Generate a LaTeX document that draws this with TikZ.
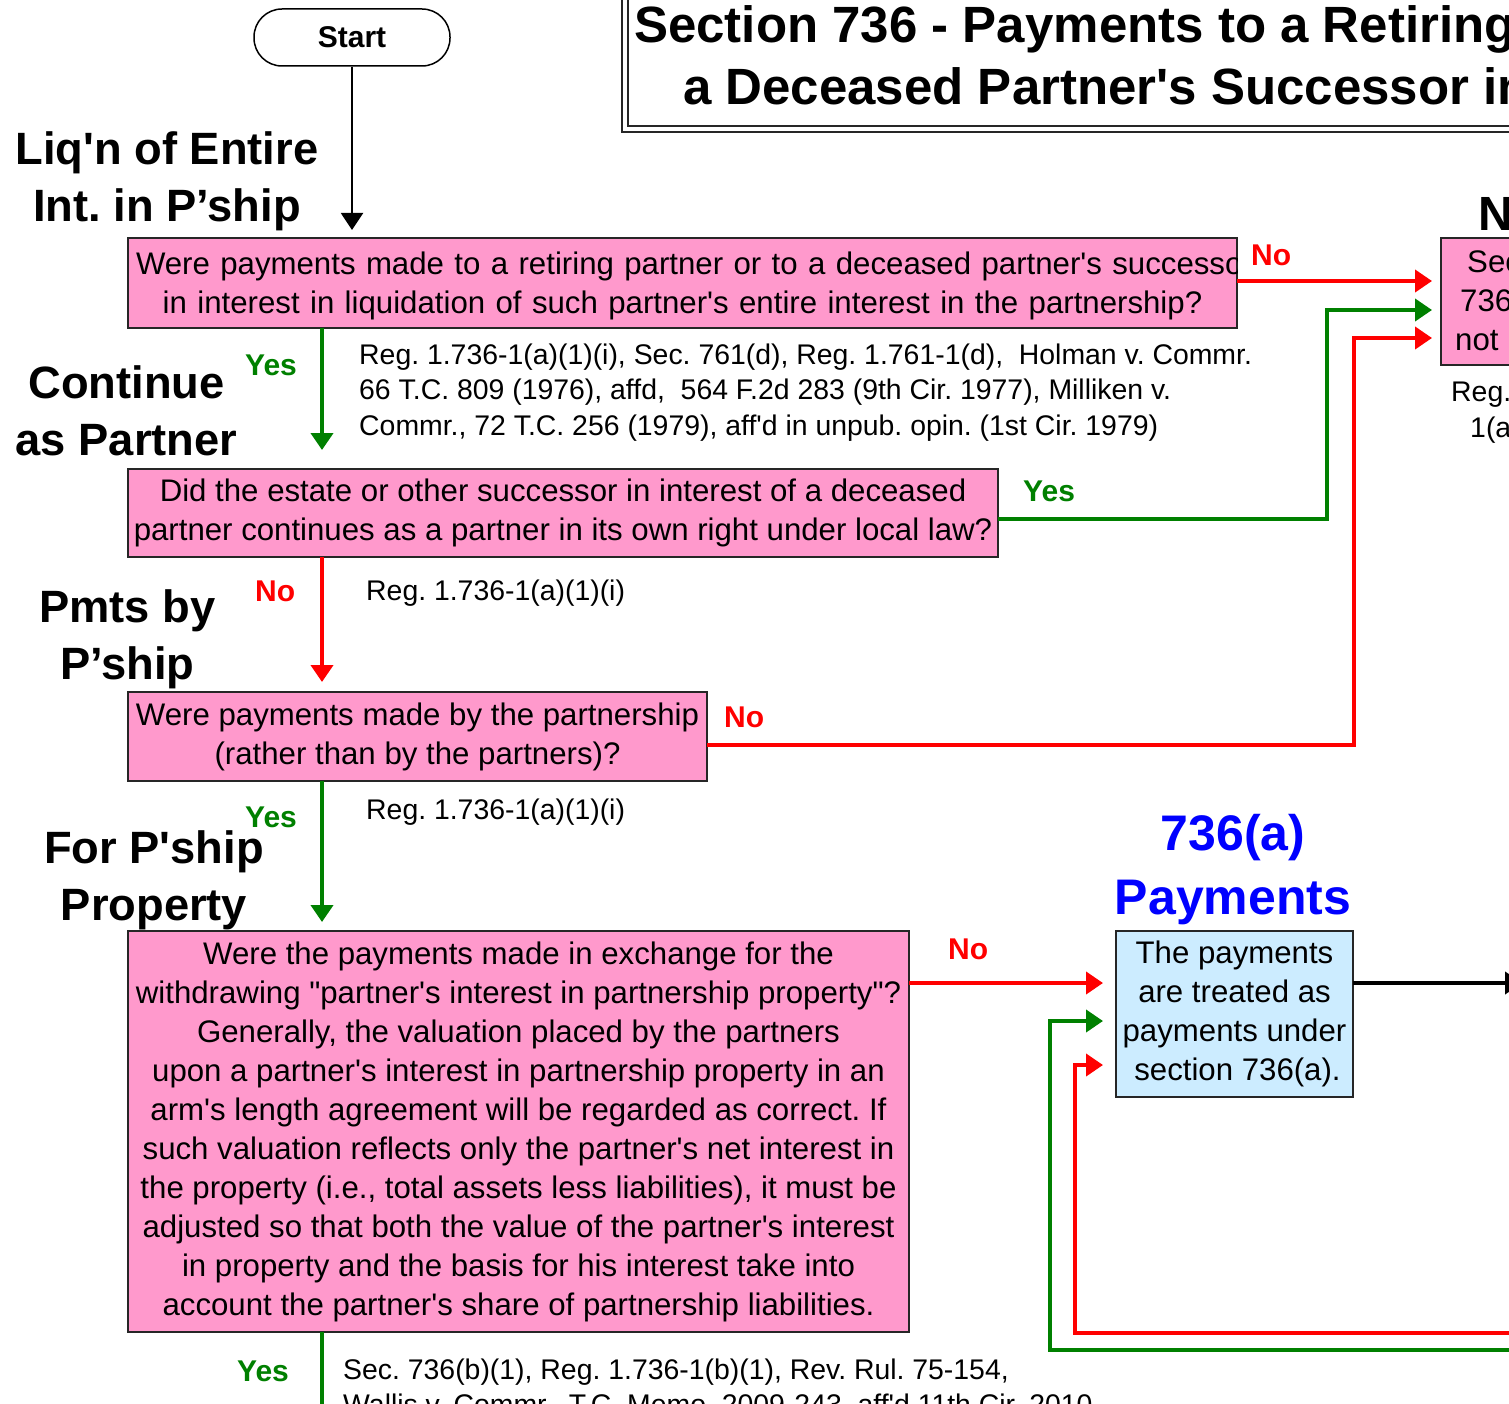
\documentclass[tikz,border=0pt]{standalone}
\usepackage{fontspec}
\setmainfont{Liberation Sans}[Ligatures=TeXOff]
\usetikzlibrary{arrows.meta}

\definecolor{boxpink}{HTML}{FF99CC}
\definecolor{boxblue}{HTML}{CCECFF}
\definecolor{yesgreen}{HTML}{008000}
\definecolor{nored}{HTML}{FF0000}
\definecolor{headblue}{HTML}{0000FF}

\begin{document}
\frenchspacing
\begin{tikzpicture}[x=1pt, y=-1pt,
	arrowhd/.style={-{Triangle[length=17pt,width=22pt]}},
	qbox/.style={draw=black!85, line width=2pt, fill=boxpink, inner sep=0pt, outer sep=0pt},
	ansbox/.style={qbox, fill=boxblue},
	qtext/.style={align=center, inner sep=0pt, font=\fontsize{31.2}{39}\selectfont},
	citetxt/.style={align=left, inner sep=0pt, anchor=north west, font=\fontsize{28.4}{35.5}\selectfont},
	sidelbl/.style={align=center, inner sep=0pt, font=\fontsize{45.3}{57}\selectfont\bfseries},
	titletxt/.style={anchor=base west, inner sep=0pt, font=\fontsize{51}{63}\selectfont\bfseries},
	yeslbl/.style={text=yesgreen, inner sep=0pt, anchor=base west, font=\fontsize{30}{34}\selectfont\bfseries},
	nolbl/.style={yeslbl, text=nored},
	yesline/.style={draw=yesgreen, line width=4pt},
	noline/.style={draw=nored, line width=4pt},
	flow/.style={draw=black, line width=2pt}]
	\useasboundingbox (0,0) rectangle (1509,1404);
	\clip (0,0) rectangle (1509,1404);

	% title and start
	\node[draw=black!85, line width=1.5pt, double, double distance=4.5pt, outer sep=0pt, inner sep=0pt,
		anchor=south west, minimum width=1400pt, minimum height=300pt] (title) at (624.75,129.25) {};
	\node[titletxt] (title1) at (634,43) {Section 736 - Payments to a Retiring};
	\node[titletxt] (title2) at (683,105) {a Deceased Partner's Successor in};
	\node[draw, line width=1.5pt, rounded corners=28pt, minimum width=196pt, minimum height=57pt,
		inner sep=0pt, font=\fontsize{30}{36}\selectfont\bfseries] (start) at (352,37.5) {Start};

	% side headings
	\node[sidelbl] (liqlbl) at (167,181.5) {Liq'n of Entire\\Int. in P’ship};
	\node[sidelbl] (contlbl) at (126.5,411) {Continue\\as Partner};
	\node[sidelbl] (pmtlbl) at (127.5,639) {Pmts by\\P’ship};
	\node[sidelbl] (proplbl) at (154,880) {For P'ship\\Property};
	\node[sidelbl, text=headblue, font=\fontsize{50}{64}\selectfont\bfseries] (paylbl) at (1233,870) {736(a)\\Payments};
	\node[anchor=base west, inner sep=0pt, font=\fontsize{48}{57}\selectfont\bfseries] (notlbl) at (1478,231) {N};

	% question boxes
	\node[qbox, minimum width=1109pt, minimum height=90pt] (liq) at (682.5,283) {};
	\begin{scope}
		\clip (liq.south west) rectangle (liq.north east);
		\node[qtext, text width=1093pt] (liqtxt) at ([yshift=-3pt]liq.center) {\mbox{Were payments made to a retiring partner or to a deceased partner's successor}\\in interest in liquidation of such partner's entire interest in the partnership?};
	\end{scope}
	\node[qbox, qtext, minimum width=870pt, minimum height=88pt] (cont) at (563,513) {Did the estate or other successor in interest of a deceased\\partner continues as a partner in its own right under local law?};
	\node[qbox, qtext, minimum width=579pt, minimum height=89pt] (pbp) at (417.5,736.5) {Were payments made by the partnership\\(rather than by the partners)?};
	\node[qbox, qtext, minimum width=781pt, minimum height=401pt] (prop) at (518.5,1131.5) {Were the payments made in exchange for the\\withdrawing "partner's interest in partnership property"?\\Generally, the valuation placed by the partners\\upon a partner's interest in partnership property in an\\arm's length agreement will be regarded as correct. If\\such valuation reflects only the partner's net interest in\\the property (i.e., total assets less liabilities), it must be\\adjusted so that both the value of the partner's interest\\in property and the basis for his interest take into\\account the partner's share of partnership liabilities.};
	\node[ansbox, qtext, minimum width=237pt, minimum height=166pt] (pay) at (1234.5,1014) {The payments\\are treated as\\payments under\\\hspace*{6pt}section 736(a).};
	\node[qbox, anchor=west, minimum width=250pt, minimum height=127pt] (nt) at (1441,301.5) {};
	\node[qtext, align=left, anchor=north west] (nttxt) at (1455,250.5) {\hspace*{12pt}Sec\\\hspace*{5pt}736\\not};

	% citations
	\node[citetxt] (cite1) at (359,343.5) {Reg. 1.736-1(a)(1)(i), Sec. 761(d), Reg. 1.761-1(d),\ \ Holman v. Commr.\\66 T.C. 809 (1976), affd,\ \ 564 F.2d 283 (9th Cir. 1977), Milliken v.\\Commr., 72 T.C. 256 (1979), aff'd in unpub. opin. (1st Cir. 1979)};
	\node[citetxt, anchor=base west] (cite2) at (366,600) {Reg. 1.736-1(a)(1)(i)};
	\node[citetxt, anchor=base west] (cite3) at (366,819) {Reg. 1.736-1(a)(1)(i)};
	\node[citetxt] (cite4) at (343,1358.5) {Sec. 736(b)(1), Reg. 1.736-1(b)(1), Rev. Rul. 75-154,\\Wallis v. Commr., T.C. Memo. 2009-243, aff'd 11th Cir. 2010};
	\node[citetxt] (cite5) at (1451,382) {Reg.\\\hspace*{19pt}1(a};

	% yes / no labels
	\node[nolbl] (no1) at (1251,266) {No};
	\node[yeslbl] (yes1) at (245,375) {Yes};
	\node[yeslbl] (yes2) at (1023,501) {Yes};
	\node[nolbl] (no2) at (255,601) {No};
	\node[nolbl] (no3) at (724,727) {No};
	\node[yeslbl] (yes3) at (245,827) {Yes};
	\node[nolbl] (no4) at (948,959) {No};
	\node[yeslbl] (yes4) at (237,1381) {Yes};

	% connectors
	\coordinate (spine) at (322,0);
	\coordinate (rtop) at (1354,281);
	\coordinate (gup) at (1327,310);
	\coordinate (rup) at (1354,338);
	\coordinate (pnoy) at (0,983);
	\coordinate (gturn) at (1050,1021);
	\coordinate (rturn) at (1075,1065);
	\coordinate (gin) at (1530,1350);
	\coordinate (rin) at (1530,1333);
	\coordinate (out) at (1522,983);
	\coordinate (ydown) at (322,1420);

	\draw[flow, arrowhd, shorten >=8pt] (start.south) -- (liq.north -| start.south);
	\draw[noline, arrowhd, shorten >=9pt] (liq.east |- rtop) -- (nt.west |- rtop);
	\draw[yesline, arrowhd, shorten >=19pt] (liq.south -| spine) -- (cont.north -| spine);
	\draw[yesline, arrowhd, shorten >=9pt] ([yshift=-6pt]cont.east) -| (gup) -- (nt.west |- gup);
	\draw[noline, arrowhd, shorten >=10pt] (cont.south -| spine) -- (pbp.north -| spine);
	\draw[noline, arrowhd, shorten >=9pt] ([yshift=-8.5pt]pbp.east) -| (rup) -- (nt.west |- rup);
	\draw[yesline, arrowhd, shorten >=9pt] (pbp.south -| spine) -- (prop.north -| spine);
	\draw[noline, arrowhd, shorten >=13pt] (prop.east |- pnoy) -- (pay.west |- pnoy);
	\draw[yesline] (prop.south -| spine) -- (ydown);
	\draw[flow, line width=4pt, arrowhd] (pay.east |- pnoy) -- (out);
	\draw[yesline, arrowhd, shorten >=13pt] (gin) -| (gturn) -- (pay.west |- gturn);
	\draw[noline, arrowhd, shorten >=13pt] (rin) -| (rturn) -- (pay.west |- rturn);
\end{tikzpicture}
\end{document}
